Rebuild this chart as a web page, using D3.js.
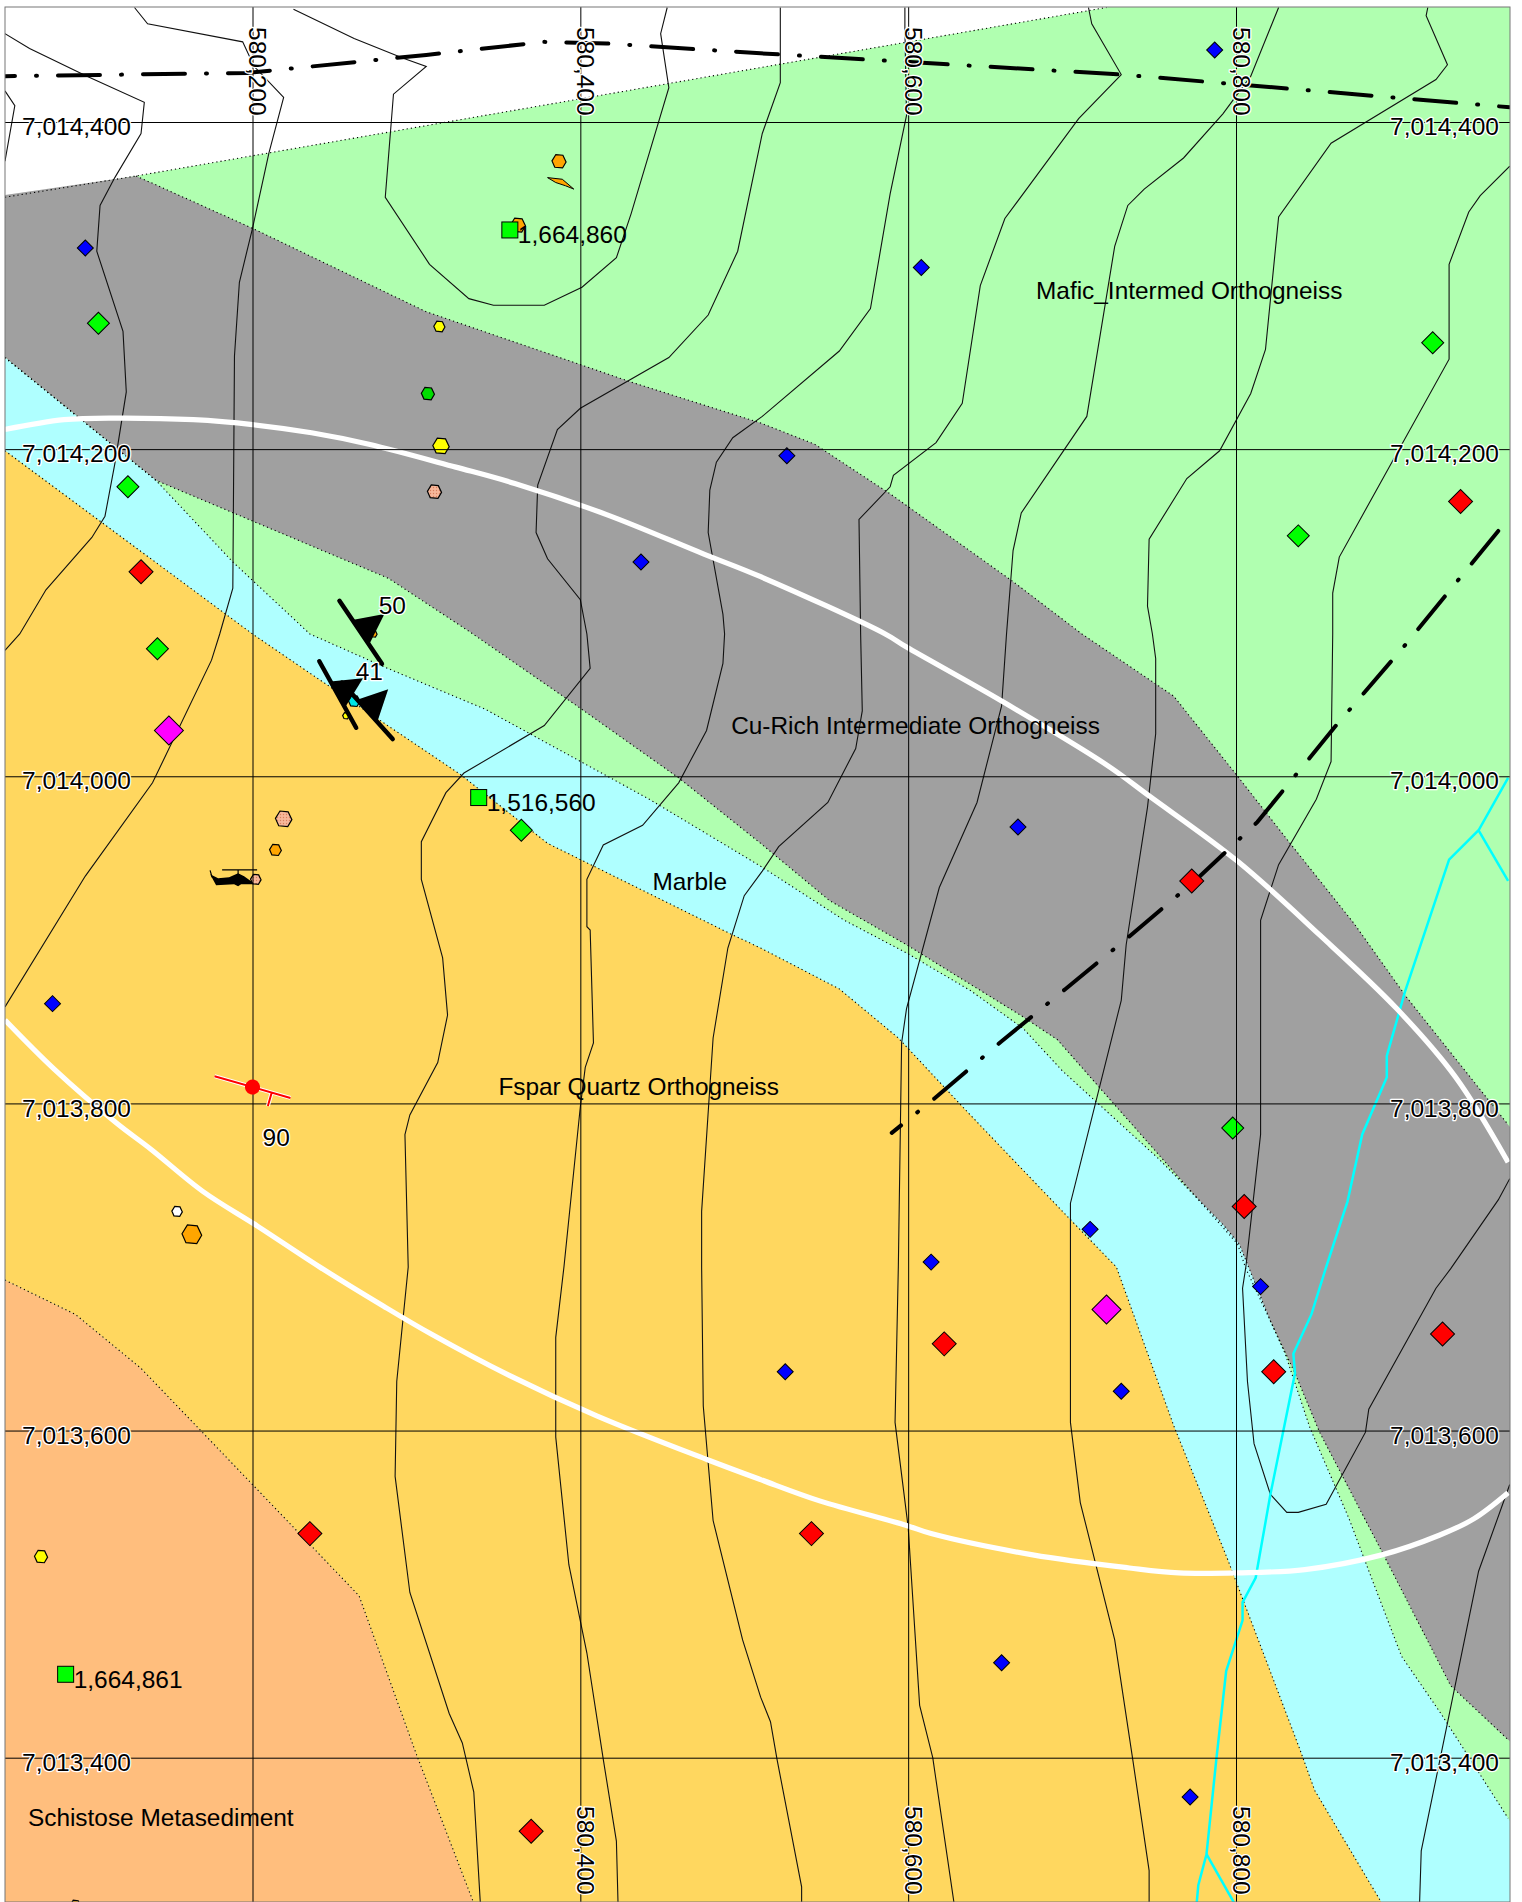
<!DOCTYPE html>
<html lang="en">
  <head>
    <meta charset="UTF-8" />
    <title>Geology map</title>
    <style>
      body { margin: 0; background: #fff; }
      svg { display: block; }
      text { font-family: "Liberation Sans", Arial, sans-serif; fill: #000; }
      .halo { paint-order: stroke; stroke: #fff; stroke-width: 2.6px; stroke-linejoin: round; }
    </style>
  </head>
  <body>
    <svg id="map" width="1522" height="1902"></svg>

    <script src="https://d3js.org/d3.v7.min.js"></script>
    <script>
      // all vertices below are [easting - 580000, northing - 7013000] in metres
      const E0 = 580000;
      const N0 = 7013000;

      const eastTicks = [580200, 580400, 580600, 580800];
      const northTicks = [7014400, 7014200, 7014000, 7013800, 7013600, 7013400];
      const eastTicksBottom = [580400, 580600, 580800];

      // unit boundaries
      const boundaryTop = [[49,1354],[129,1367],[721,1470]];
      const boundaryGrayUpper = [[129,1367],[200,1335],[306,1284],[431,1241],[510,1216],[543,1203],[590,1172],[664,1119],[706,1087],[762,1049],[801,1000],[833,959],[872,910],[904,865],[966,787]];
      const boundaryGrayLower = [[49,1256],[141,1181],[283,1121],[333,1088],[398,1043],[460,999],[510,959],[552,924],[599,897],[670,853],[691,839],[727,798],[801,714],[806,699],[836,635],[851,599],[889,526],[931,444],[966,411]];
      const boundaryMarbleUpper = [[49,1256],[141,1181],[188,1131],[235,1087],[280,1067],[342,1041],[442,986],[510,945],[561,912],[599,892],[638,869],[670,846],[694,820],[718,798],[753,766],[792,726],[802,714],[821,667],[830,647],[845,602],[869,546],[883,509],[901,462],[925,427],[966,363]];
      const boundaryMarbleLower = [[49,1199],[200,1087],[238,1061],[327,1001],[380,959],[493,903],[510,895],[558,870],[594,840],[635,796],[697,731],[727,700],[762,603],[795,521],[839,405],[848,380],[889,311]];
      const boundarySchist = [[49,692],[92,671],[132,638],[200,567],[265,499],[300,402],[335,311]];

      // contours
      const contour1 = [[49,1454],[64,1445],[99,1428],[134,1412],[132,1393],[116,1366],[107,1349],[105,1321],[121,1272],[123,1235],[116,1191],[110,1159],[102,1146],[74,1114],[58,1087],[49,1077]];
      const contour2 = [[49,1419],[55,1410],[49,1376]];
      const contour3 = [[128,1470],[136,1460],[194,1449],[201,1434],[219,1415],[210,1381],[200,1335],[192,1302],[189,1257],[188,1115],[180,1087],[175,1071],[139,996],[98,939],[49,859]];
      const contour4 = [[225,1469],[262,1451],[292,1439],[306,1434],[286,1417],[281,1354],[308,1313],[332,1292],[347,1288],[378,1288],[401,1299],[422,1317],[431,1344],[454,1421],[449,1454],[453,1470]];
      const contour5 = [[522,1470],[522,1424],[511,1393],[496,1321],[478,1282],[454,1256],[400,1225],[386,1212],[374,1178],[373,1149],[380,1133],[400,1108],[404,1087],[406,1066],[378,1031],[329,1002],[318,990],[303,960],[303,937],[316,889],[319,854],[313,825],[296,793],[293,781],[295,700],[288,630],[287,572],[296,501],[320,427],[328,409],[335,379],[339,311]];
      const contour6 = [[598,1470],[598,1457],[599,1404],[589,1356],[577,1286],[558,1260],[511,1220],[493,1207],[483,1192],[479,1175],[478,1149],[487,1099],[488,1087],[487,1069],[477,1028],[460,996],[438,970],[414,958],[404,937],[404,908],[406,906],[408,837],[403,822],[400,798],[390,700],[385,657],[385,596],[393,518],[404,464],[414,399],[422,349],[423,311]];
      const contour7 = [[710,1470],[712,1460],[730,1429],[704,1402],[659,1341],[644,1300],[633,1228],[617,1204],[591,1184],[589,1177],[570,1157],[571,1087],[572,1040],[568,1017],[551,984],[521,957],[511,942],[500,927],[490,895],[481,840],[474,734],[474,700],[475,615],[481,545],[499,472],[510,437],[516,422],[520,399],[535,321],[535,311]];
      const contour8 = [[826,1470],[809,1428],[792,1405],[768,1378],[744,1359],[734,1349],[726,1324],[709,1220],[669,1161],[664,1138],[660,1087],[657,1043],[642,984],[619,932],[599,858],[596,837],[594,700],[592,605],[600,541],[607,432],[615,400],[628,311]];
      const contour9 = [[917,1470],[916,1465],[929,1435],[922,1426],[858,1387],[826,1342],[818,1261],[809,1234],[790,1199],[770,1182],[747,1145],[746,1104],[749,1087],[751,1072],[751,1026],[746,981],[733,897],[730,863],[699,739],[699,700],[699,605],[705,556],[726,472],[737,399],[747,331],[747,311]];
      const contour10 = [[967,1373],[949,1355],[942,1345],[930,1313],[930,1255],[863,1134],[859,1112],[859,1087],[858,1009],[849,986],[826,946],[815,912],[815,781],[806,700],[804,687],[807,630],[811,592],[821,561],[831,550],[838,550],[855,555],[879,599],[881,613],[922,687],[931,699],[960,741],[967,754]];
      const contour11 = [[967,567],[948,514],[913,343],[912,311]];

      // streams
      const streamMain = [[966,999],[948,967],[930,949],[903,868],[892,829],[892,816],[877,781],[868,740],[855,700],[846,671],[835,647],[836,635],[821,561],[812,510],[804,495],[804,484],[794,453],[788,399],[782,341],[777,322],[776,311]];
      const streamBranchNorth = [[948,967],[966,936]];
      const streamBranchSouth = [[782,341],[799,311]];

      // white traces
      const traceNorth = [[49,1212],[85,1218],[117,1219],[164,1218],[200,1215],[236,1210],[271,1203],[324,1189],[360,1179],[416,1160],[475,1136],[510,1122],[586,1087],[599,1079],[657,1046],[721,1007],[747,988],[801,948],[851,903],[898,858],[934,816],[966,764]];
      const traceSouth = [[49,851],[79,821],[117,788],[138,772],[170,746],[203,725],[241,700],[280,676],[309,659],[356,634],[410,609],[478,582],[510,570],[546,557],[599,542],[614,537],[676,524],[735,516],[765,513],[801,513],[842,515],[889,524],[924,536],[945,546],[966,562]];

      // dash-dot traces
      const faultNorth = [[49,1428],[197,1430],[306,1441],[378,1449],[416,1448],[510,1442],[730,1429],[967,1409]];
      const faultEast = [[960,1150],[903,1080],[861,1031],[813,972],[776,937],[736,903],[696,870],[657,838],[616,803],[590,782]];

      // sample points
      const bluePoints = [[98,1323],[437,1131],[608,1311],[787,1444],[526,1196],[78,861],[667,969],[711,723],[614,703],[525,636],[730,624],[657,458],[772,376],[815,688]];
      const greenPoints = [[106,1277],[124,1177],[142,1078],[364,967],[920,1265],[838,1147],[798,785]];
      const redPoints = [[132,1125],[937,1168],[773,936],[805,737],[622,653],[541,537],[823,636],[926,659],[235,537],[370,355]];
      const magentaPoints = [[149,1028],[721,674]];

      // station ids
      const stations = [[357,1334,"1,664,860"],[338,987,"1,516,560"],[86,451,"1,664,861"]];

      // outcrops: easting, northing, radius in metres
      const orangeOutcrops = [[387,1376,4.3],[362,1337,4.5],[214,955,3.6],[163,720,6],[274,1087,2],[92,310,3]];
      const yellowOutcrops = [[314,1275,3.4],[315,1202,5],[71,523,4],[257,1037,2]];
      const greenOutcrops = [[307,1234,4]];
      const pinkOutcrops = [[311,1174,4.3],[219,974,5],[202,937,3.2]];
      const whiteOutcrops = [[154,734,3.2]];
      const cyanOutcrops = [[262,1046,3.5]];
      const orangeSliver = [[380,1366],[389,1365],[396,1359],[391,1361],[385,1363]];

      // structural readings: easting, northing, strike, dip label
      const bedding = [[266,1088,146,"50"],[252,1050,151,"41"],[270,1040,138,""]];
      const foliation = [[200,810,106,"90"]];
      const helicopterAt = [[190,937]];

      const unitLabels = [
        [678,1292,"Mafic_Intermed Orthogneiss"],
        [492,1026,"Cu-Rich Intermediate Orthogneiss"],
        [444,930.5,"Marble"],
        [350,805,"Fspar Quartz Orthogneiss"],
        [63,358,"Schistose Metasediment"],
      ];

      const frame = { l: 5, t: 7, r: 1510, b: 1902 };
      const svg = d3.select("#map");

      const x = d3.scaleLinear().domain([580200, 580800]).range([252.5, 1236]);
      const y = d3.scaleLinear().domain([7014400, 7013400]).range([122, 1757.7]);
      const px = (d) => x(E0 + d[0]);
      const py = (d) => y(N0 + d[1]);
      const metre = x(580201) - x(580200);

      svg.append("clipPath").attr("id", "frame").append("rect")
        .attr("x", frame.l).attr("y", frame.t)
        .attr("width", frame.r - frame.l).attr("height", frame.b - frame.t);

      // speckle fill of the pink outcrops
      const speckle = svg.append("pattern").attr("id", "speckle")
        .attr("width", 3).attr("height", 3).attr("patternUnits", "userSpaceOnUse");
      speckle.append("rect").attr("width", 3).attr("height", 3).attr("fill", "#f7b79a");
      speckle.append("circle").attr("cx", 1.5).attr("cy", 1.5).attr("r", 0.7).attr("fill", "#d9805f");

      const map = svg.append("g").attr("clip-path", "url(#frame)");
      const line = d3.line().x(px).y(py);
      const smooth = d3.line().x(px).y(py).curve(d3.curveCatmullRom);

      // corners of the map in local metres
      const W = 40, E = 980, T = 1480, B = 300;

      // polygons are stacked, each one covers the previous
      const polygons = [
        { fill: "#b0ffb0", pts: [[W, 1354]].concat(boundaryTop, [[760, T], [E, T], [E, B], [W, B]]) },
        { fill: "#a0a0a0", pts: [[W, 1354]].concat([[129, 1367]], boundaryGrayUpper, [[E, 770], [E, 400]], boundaryGrayLower.slice().reverse(), [[W, 1256]]) },
        { fill: "#afffff", pts: [[W, 1256]].concat(boundaryMarbleUpper, [[E, 340], [E, B], [889, B]], boundaryMarbleLower.slice().reverse(), [[W, 1199]]) },
        { fill: "#ffd75f", pts: [[W, 1199]].concat(boundaryMarbleLower, [[889, B], [335, B]], boundarySchist.slice().reverse(), [[W, 692]]) },
        { fill: "#ffbe7d", pts: [[W, 692]].concat(boundarySchist, [[335, B], [W, B]]) },
      ];
      map.selectAll("path.unit").data(polygons).enter().append("path")
        .attr("class", "unit")
        .attr("d", (d) => line(d.pts) + "Z")
        .attr("fill", (d) => d.fill);

      map.selectAll("path.boundary")
        .data([boundaryTop, boundaryGrayUpper, boundaryGrayLower, boundaryMarbleUpper, boundaryMarbleLower, boundarySchist])
        .enter().append("path")
        .attr("class", "boundary")
        .attr("d", line)
        .attr("fill", "none")
        .attr("stroke", "#000")
        .attr("stroke-width", 1.1)
        .attr("stroke-dasharray", "1.2 3");

      const contours = [contour1, contour2, contour3, contour4, contour5, contour6, contour7, contour8, contour9, contour10, contour11];
      map.selectAll("path.contour").data(contours).enter().append("path")
        .attr("class", "contour")
        .attr("d", line)
        .attr("fill", "none")
        .attr("stroke", "#111")
        .attr("stroke-width", 1.1);

      map.selectAll("path.stream").data([streamMain, streamBranchNorth, streamBranchSouth]).enter().append("path")
        .attr("class", "stream")
        .attr("d", line)
        .attr("fill", "none")
        .attr("stroke", "#00ffff")
        .attr("stroke-width", 2.5);

      map.selectAll("path.trace").data([traceNorth, traceSouth]).enter().append("path")
        .attr("class", "trace")
        .attr("d", smooth)
        .attr("fill", "none")
        .attr("stroke", "#fff")
        .attr("stroke-width", 5.2);

      map.selectAll("path.fault").data([faultNorth, faultEast]).enter().append("path")
        .attr("class", "fault")
        .attr("d", line)
        .attr("fill", "none")
        .attr("stroke", "#000")
        .attr("stroke-width", 4)
        .attr("stroke-linecap", "round")
        .attr("stroke-dasharray", (d) => (d === faultNorth ? "42 21 1 21" : "42 20.8 1 20.8"))
        .attr("stroke-dashoffset", (d) => (d === faultNorth ? 32 : 0));

      // outcrops
      const hex = [[1, 0.1], [0.55, -0.85], [-0.45, -0.95], [-1, -0.05], [-0.6, 0.85], [0.5, 0.95]];
      function outcrops(rows, fill) {
        map.selectAll(null).data(rows).enter().append("path")
          .attr("d", (d) => d3.line()(hex.map((h) => [px(d) + h[0] * d[2] * metre, py(d) + h[1] * d[2] * metre])) + "Z")
          .attr("fill", fill)
          .attr("stroke", "#000")
          .attr("stroke-width", 1.2);
      }
      outcrops(orangeOutcrops, "#ffa500");
      outcrops(yellowOutcrops, "#ffff00");
      outcrops(greenOutcrops, "#00dd00");
      outcrops(pinkOutcrops, "url(#speckle)");
      outcrops(whiteOutcrops, "#fff");
      outcrops(cyanOutcrops, "#00e5e5");
      map.append("path").attr("d", line(orangeSliver) + "Z")
        .attr("fill", "#ffa500").attr("stroke", "#000").attr("stroke-width", 1);

      // sample diamonds, rotated squares
      const square = d3.symbol().type(d3.symbolSquare);
      function diamonds(rows, fill, size) {
        map.selectAll(null).data(rows).enter().append("path")
          .attr("d", square.size(size)())
          .attr("transform", (d) => `translate(${px(d)},${py(d)}) rotate(45)`)
          .attr("fill", fill)
          .attr("stroke", "#000")
          .attr("stroke-width", 1);
      }
      diamonds(bluePoints, "#0000ff", 128);
      diamonds(greenPoints, "#00ff00", 242);
      diamonds(redPoints, "#ff0000", 288);
      diamonds(magentaPoints, "#ff00ff", 420);

      map.selectAll("rect.station").data(stations).enter().append("rect")
        .attr("class", "station")
        .attr("x", (d) => px(d) - 8).attr("y", (d) => py(d) - 8)
        .attr("width", 16).attr("height", 16)
        .attr("fill", "#00ff00")
        .attr("stroke", "#000");

      // grid
      const grid = map.append("g").attr("class", "grid");
      grid.append("g").attr("transform", `translate(0,${frame.t})`)
        .call(d3.axisTop(x).tickValues(eastTicks).tickSize(-(frame.b - frame.t)).tickFormat(""));
      grid.append("g").attr("transform", `translate(${frame.l},0)`)
        .call(d3.axisLeft(y).tickValues(northTicks).tickSize(-(frame.r - frame.l)).tickFormat(""));
      grid.selectAll(".domain").remove();
      grid.selectAll("line").attr("stroke", "#000").attr("stroke-width", 1);

      // helicopter icon
      const heli = [[-26, -5], [-22, -3], [-18, -1], [-7, -2], [2, -6], [8, -3], [15, 2], [18, 5], [5, 5], [2, 7], [-2, 5], [-20, 6]];
      const heliG = map.selectAll(null).data(helicopterAt).enter().append("g")
        .attr("transform", (d) => `translate(${px(d)},${py(d)})`);
      heliG.append("path").attr("d", d3.line()(heli) + "Z").attr("fill", "#000");
      heliG.append("path").attr("d", "M-14,-9.5H21M2,-9.5V-5M-26,-9L-24,-2").attr("stroke", "#000").attr("stroke-width", 1.2).attr("fill", "none");

      // strike and dip symbols
      const bed = map.selectAll(null).data(bedding).enter().append("g")
        .attr("transform", (d) => `translate(${px(d)},${py(d)}) rotate(${d[2]})`);
      bed.append("line").attr("y1", -38).attr("y2", 38).attr("stroke", "#000").attr("stroke-width", 4.5).attr("stroke-linecap", "round");
      bed.append("path").attr("d", d3.line()([[0, -15], [-30, 2], [0, 15]]) + "Z").attr("fill", "#000");

      const fol = map.selectAll(null).data(foliation).enter().append("g")
        .attr("transform", (d) => `translate(${px(d)},${py(d)}) rotate(${d[2]})`);
      fol.append("path").attr("d", "M0,-39.5V39.5M0,-20H14").attr("stroke", "#fff").attr("stroke-width", 4).attr("fill", "none");
      fol.append("path").attr("d", "M0,-39.5V39.5M0,-20H14").attr("stroke", "#f00").attr("stroke-width", 2).attr("fill", "none");
      fol.append("circle").attr("r", 7.5).attr("fill", "#f00");

      // labels
      const fmt = d3.format(",");
      const labels = svg.append("g").attr("font-size", 24.5);

      labels.selectAll("text.left").data(northTicks).enter().append("text")
        .attr("class", "left halo")
        .attr("x", 22).attr("y", (d) => y(d) + 13.2)
        .text(fmt);
      labels.selectAll("text.right").data(northTicks).enter().append("text")
        .attr("class", "right halo")
        .attr("text-anchor", "end")
        .attr("x", 1499).attr("y", (d) => y(d) + 13.2)
        .text(fmt);
      labels.selectAll("text.top").data(eastTicks).enter().append("text")
        .attr("class", "top halo")
        .attr("transform", (d) => `translate(${x(d) - 3.5},27) rotate(90)`)
        .text(fmt);
      labels.selectAll("text.bottom").data(eastTicksBottom).enter().append("text")
        .attr("class", "bottom halo")
        .attr("transform", (d) => `translate(${x(d) - 3.5},1806) rotate(90)`)
        .text(fmt);

      labels.selectAll("text.station").data(stations).enter().append("text")
        .attr("class", "station")
        .attr("x", (d) => px(d) + 8).attr("y", (d) => py(d) + 13.5)
        .text((d) => d[2]);

      labels.selectAll("text.dip").data(bedding.concat(foliation)).enter().append("text")
        .attr("class", "dip halo")
        .attr("x", (d) => px(d) + (d[3] === "90" ? 10 : 18))
        .attr("y", (d) => py(d) + (d[3] === "90" ? 59 : d[3] === "41" ? -14 : -18.5))
        .text((d) => d[3]);

      labels.selectAll("text.unit").data(unitLabels).enter().append("text")
        .attr("class", "unit")
        .attr("font-size", 24.4)
        .attr("x", px).attr("y", py)
        .text((d) => d[2]);

      svg.append("rect")
        .attr("x", frame.l).attr("y", frame.t)
        .attr("width", frame.r - frame.l).attr("height", frame.b - frame.t)
        .attr("fill", "none").attr("stroke", "#777").attr("stroke-width", 1);
    </script>
  </body>
</html>
